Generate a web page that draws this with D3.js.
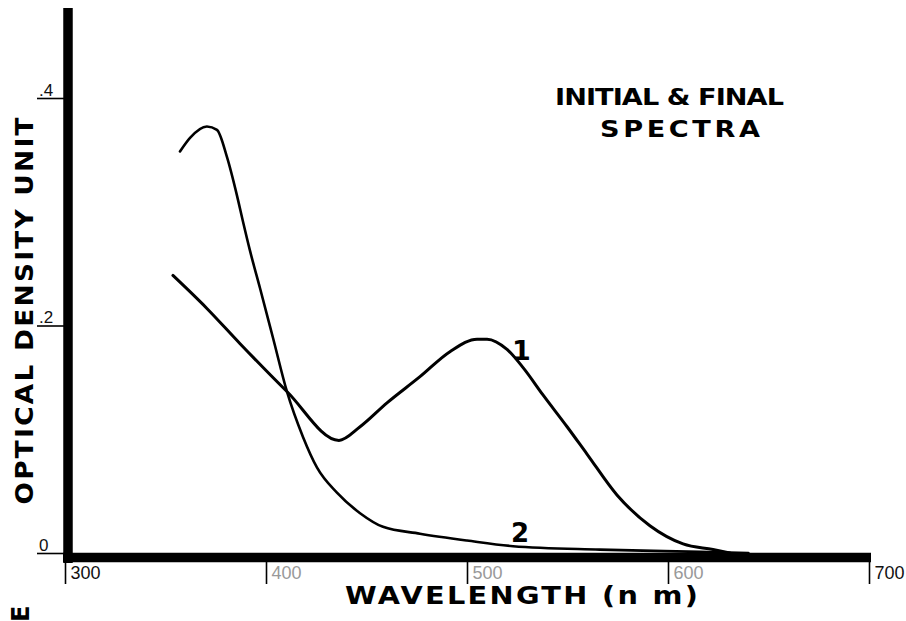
<!DOCTYPE html>
<html>
<head>
<meta charset="utf-8">
<script src="https://cdn.jsdelivr.net/npm/d3@7"></script>
<style>
  html, body { margin: 0; padding: 0; background: #fff; }
  svg { display: block; }
  text { font-family: "Liberation Sans", Arial, sans-serif; }
  .heavy { font-family: "DejaVu Sans", "Liberation Sans", sans-serif; font-weight: bold; }
</style>
</head>
<body>
<div id="chart"></div>
<script>
// Wavelength (nm) and optical density
const curve1Wavelength = [353.7, 370.6, 387.1, 410.4, 436.3, 446.8, 460.2, 476.6, 491.5, 505, 510, 519.9, 527.9, 537.8, 549.8, 559.7, 574.6, 591, 607.5, 622.4, 630.8];
const curve1Density    = [0.244, 0.215, 0.184, 0.142, 0.099, 0.111, 0.132, 0.155, 0.177, 0.188, 0.188, 0.179, 0.163, 0.139, 0.111, 0.087, 0.051, 0.024, 0.008, 0.003, 0];

const curve2Wavelength = [357.2, 362.2, 370.6, 375.6, 380.6, 385.6, 388.6, 392, 397, 403.5, 410.4, 418.4, 425.4, 435.3, 446.8, 458.2, 476.6, 500, 522.9, 566, 616, 640];
const curve2Density    = [0.353, 0.365, 0.375, 0.372, 0.348, 0.314, 0.291, 0.266, 0.233, 0.189, 0.142, 0.102, 0.075, 0.053, 0.035, 0.023, 0.017, 0.011, 0.006, 0.003, 0.001, 0];

const xTicks = [300, 400, 500, 600, 700];
const xTickLabels = ['300', '400', '500', '600', '700'];
const yTicks = [0, 0.2, 0.4];
const yTickLabels = ['0', '.2', '.4'];

const titleLines = ['INITIAL & FINAL', 'SPECTRA'];
const xTitle = 'WAVELENGTH (n m)';
const yTitle = 'OPTICAL  DENSITY  UNIT';

const width = 906, height = 621;

const svg = d3.select('#chart').append('svg')
  .attr('width', width)
  .attr('height', height);

const x = d3.scaleLinear().domain([300, 700]).range([65, 869]);
const y = d3.scaleLinear().domain([0, 0.4]).range([553, 98]);

// thick axis bars
svg.append('line')
  .attr('x1', 68).attr('x2', 68)
  .attr('y1', 8).attr('y2', y(0) + 10)
  .attr('stroke', '#000').attr('stroke-width', 9.5);

svg.append('line')
  .attr('x1', 63).attr('x2', x(700) + 2)
  .attr('y1', y(0) + 4.5).attr('y2', y(0) + 4.5)
  .attr('stroke', '#000').attr('stroke-width', 9.5);

// x ticks: hang below the bar, label to the right
const xAxis = d3.axisBottom(x)
  .tickValues(xTicks)
  .tickSize(22)
  .tickFormat((d, i) => xTickLabels[i]);

const gx = svg.append('g')
  .attr('transform', `translate(0,${y(0) + 9})`)
  .call(xAxis);
gx.select('.domain').remove();
gx.selectAll('.tick line').attr('stroke', '#000').attr('stroke-width', 1.6);
gx.selectAll('.tick text')
  .attr('text-anchor', 'start')
  .attr('x', 5)
  .attr('y', 4)
  .attr('dy', '0.71em')
  .attr('font-size', 18)
  .attr('fill', (d, i) => (i === 0 || i === 4) ? '#111' : '#999');

// y ticks: short lines to the left, label sits on top of them
const yAxis = d3.axisLeft(y)
  .tickValues(yTicks)
  .tickSize(27)
  .tickFormat((d, i) => yTickLabels[i]);

const gy = svg.append('g')
  .attr('transform', 'translate(64,0)')
  .call(yAxis);
gy.select('.domain').remove();
gy.selectAll('.tick line').attr('stroke', '#000').attr('stroke-width', 1.6);
gy.selectAll('.tick text')
  .attr('text-anchor', 'start')
  .attr('x', -25)
  .attr('y', -3)
  .attr('dy', null)
  .attr('font-size', 17)
  .attr('fill', '#111');

// spectra
const line = d3.line()
  .x(d => x(d[0]))
  .y(d => y(d[1]))
  .curve(d3.curveMonotoneX);

const curve1 = curve1Wavelength.map((w, i) => [w, curve1Density[i]]);
const curve2 = curve2Wavelength.map((w, i) => [w, curve2Density[i]]);

svg.append('path')
  .datum(curve1)
  .attr('d', line)
  .attr('fill', 'none')
  .attr('stroke', '#000')
  .attr('stroke-width', 3)
  .attr('stroke-linejoin', 'round')
  .attr('stroke-linecap', 'round');

svg.append('path')
  .datum(curve2)
  .attr('d', line)
  .attr('fill', 'none')
  .attr('stroke', '#000')
  .attr('stroke-width', 2.6)
  .attr('stroke-linejoin', 'round')
  .attr('stroke-linecap', 'round');

// curve numbers
svg.append('text')
  .attr('class', 'heavy')
  .attr('x', 512).attr('y', 360)
  .attr('font-size', 27)
  .text('1');
svg.append('text')
  .attr('class', 'heavy')
  .attr('x', 511).attr('y', 542)
  .attr('font-size', 26)
  .text('2');

// wide lettering: stretch horizontally, then fit to the measured width
function wideText(tx, ty, rot, str, size, len, stretch, anchor) {
  svg.append('text')
    .attr('class', 'heavy')
    .attr('transform', `translate(${tx},${ty}) rotate(${rot}) scale(${stretch},1)`)
    .attr('text-anchor', anchor)
    .attr('font-size', size)
    .attr('textLength', len / stretch)
    .attr('lengthAdjust', 'spacing')
    .text(str);
}

// title
wideText(555, 105, 0, titleLines[0], 23, 229, 1.18, 'start');
wideText(600, 137, 0, titleLines[1], 23, 160, 1.18, 'start');

// axis titles
wideText(345, 604, 0, xTitle, 25, 353, 1.15, 'start');
wideText(33, 311, -90, yTitle, 24, 387, 1.1, 'middle');

// stray letter from the neighbouring page, cut at the bottom edge
svg.append('text')
  .attr('class', 'heavy')
  .attr('transform', 'translate(29,622) rotate(-90)')
  .attr('font-size', 24)
  .text('E');
</script>
</body>
</html>
